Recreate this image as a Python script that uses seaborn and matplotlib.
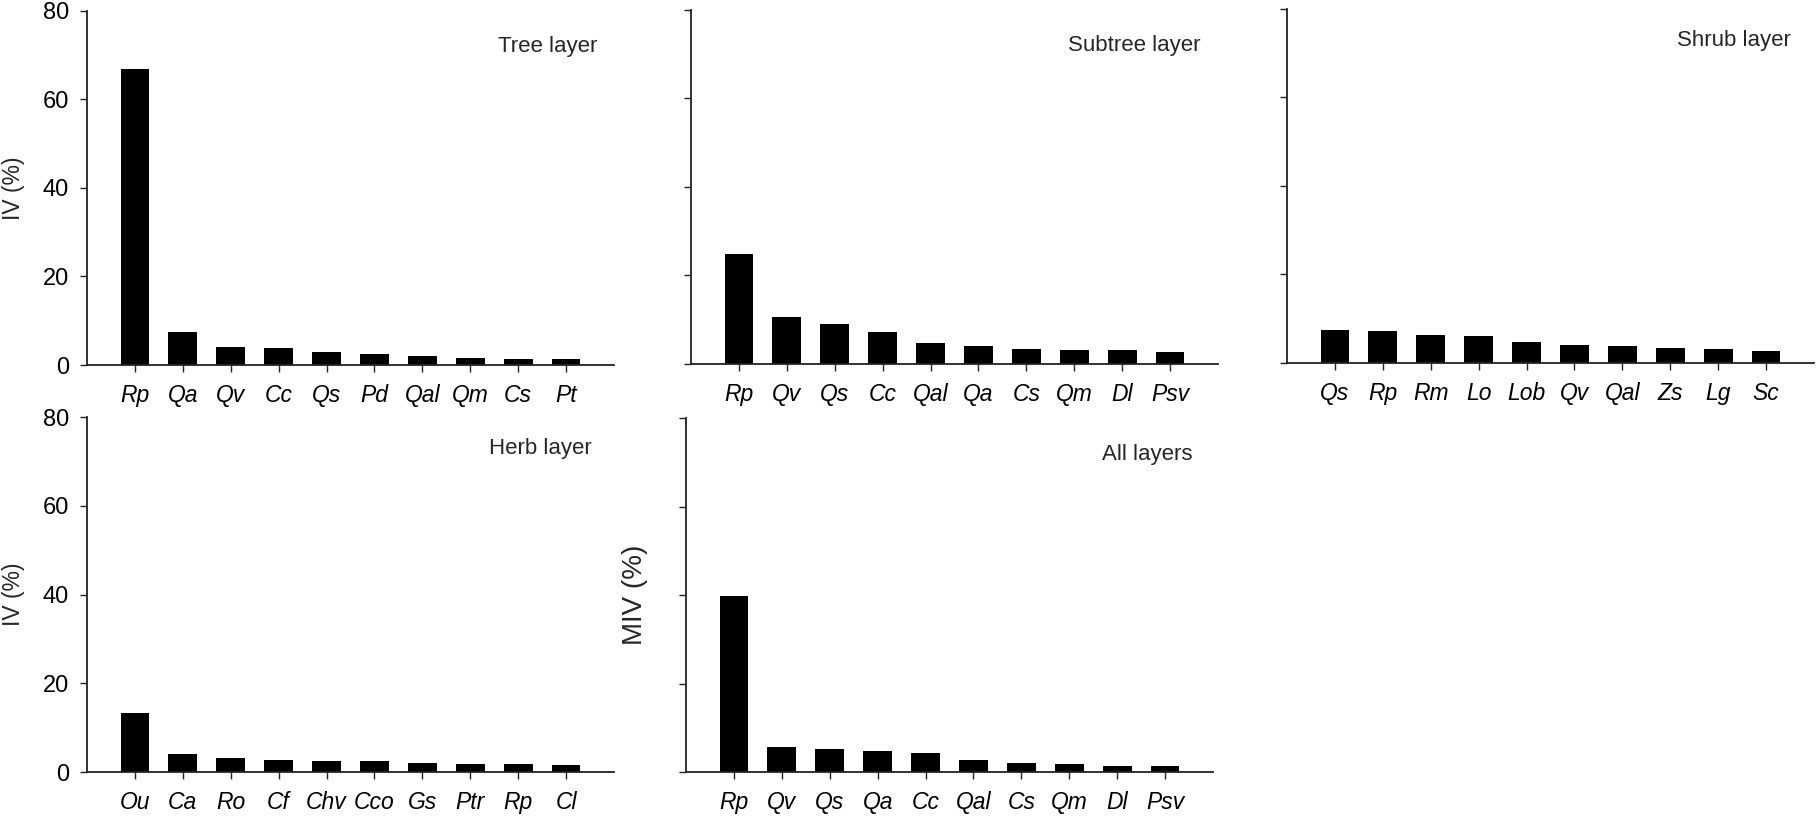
import matplotlib
matplotlib.use("Agg")
import matplotlib.pyplot as plt
import seaborn as sns

# ---- data ----
tree_species = ["Rp", "Qa", "Qv", "Cc", "Qs", "Pd", "Qal", "Qm", "Cs", "Pt"]
tree_iv = [66.8, 7.4, 4.0, 3.9, 2.9, 2.4, 2.0, 1.6, 1.35, 1.3]

subtree_species = ["Rp", "Qv", "Qs", "Cc", "Qal", "Qa", "Cs", "Qm", "Dl", "Psv"]
subtree_iv = [24.9, 10.6, 9.0, 7.2, 4.75, 4.1, 3.5, 3.25, 3.1, 2.8]

shrub_species = ["Qs", "Rp", "Rm", "Lo", "Lob", "Qv", "Qal", "Zs", "Lg", "Sc"]
shrub_iv = [7.5, 7.3, 6.3, 6.2, 4.7, 4.15, 3.9, 3.3, 3.2, 2.6]

herb_species = ["Ou", "Ca", "Ro", "Cf", "Chv", "Cco", "Gs", "Ptr", "Rp", "Cl"]
herb_iv = [13.4, 4.1, 3.2, 2.6, 2.55, 2.4, 2.0, 1.9, 1.8, 1.6]

all_species = ["Rp", "Qv", "Qs", "Qa", "Cc", "Qal", "Cs", "Qm", "Dl", "Psv"]
all_miv = [39.8, 5.7, 5.1, 4.75, 4.3, 2.7, 1.95, 1.9, 1.35, 1.3]

panel_titles = ["Tree layer", "Subtree layer", "Shrub layer", "Herb layer", "All layers"]
y_ticks = [0, 20, 40, 60, 80]

sns.set_style("ticks")
plt.rcParams["font.family"] = ["Liberation Sans", "DejaVu Sans"]

W, H = 1818, 822
fig = plt.figure(figsize=(W / 100, H / 100), dpi=100)

def frac(left, top_px, bottom_px, width=527):
    return [left / W, (H - bottom_px) / H, width / W, (bottom_px - top_px) / H]

panels = [
    (tree_species, tree_iv, frac(87, 11, 365), "IV (%)", True, 0.969, 0.90),
    (subtree_species, subtree_iv, frac(691, 10, 364), None, False, 0.966, 0.90),
    (shrub_species, shrub_iv, frac(1287, 9, 363), None, False, 0.956, 0.91),
    (herb_species, herb_iv, frac(87, 417, 772), "IV (%)", True, 0.958, 0.91),
    (all_species, all_miv, frac(686, 418, 772), "MIV (%)", False, 0.962, 0.896),
]

for (cats, vals, rect, ylab, show_ylabels, tx, ty), title in zip(panels, panel_titles):
    ax = fig.add_axes(rect)
    sns.barplot(x=cats, y=vals, color="black", saturation=1, width=0.6,
                edgecolor="black", linewidth=0, ax=ax)
    ax.set_xlim(-1, 10)
    ax.set_ylim(0, 80)
    ax.set_yticks(y_ticks)
    if show_ylabels:
        ax.set_yticklabels([str(v) for v in y_ticks])
    else:
        ax.set_yticklabels([])
    for lab in ax.get_xticklabels():
        lab.set_fontstyle("italic")
    ax.tick_params(axis="x", labelsize=16.5, length=5, width=1, pad=9, colors="#222222")
    ax.tick_params(axis="y", labelsize=17, length=5, width=1, pad=8, colors="#222222")
    for lab in ax.get_xticklabels() + ax.get_yticklabels():
        lab.set_color("black")
    sns.despine(ax=ax)
    for s in ["left", "bottom"]:
        ax.spines[s].set_linewidth(1.3)
        ax.spines[s].set_color("#222222")
    ax.set_xlabel("")
    if ylab == "IV (%)":
        ax.set_ylabel(ylab, fontsize=16.5)
        ax.yaxis.set_label_coords(-0.118, 0.5)
    elif ylab == "MIV (%)":
        ax.set_ylabel(ylab, fontsize=20)
        ax.yaxis.set_label_coords(-0.072, 0.5)
    else:
        ax.set_ylabel("")
    ax.text(tx, ty, title, transform=ax.transAxes, ha="right", va="center", fontsize=16)

fig.savefig("out.png", dpi=100)
